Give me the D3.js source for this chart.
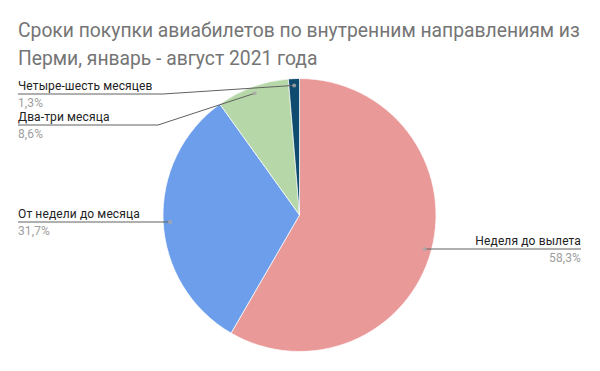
<!DOCTYPE html>
<html>
<head>
<meta charset="utf-8">
<script src="https://cdn.jsdelivr.net/npm/d3@7"></script>
<style>
  html, body { margin: 0; padding: 0; background: #fff; }
  svg { display: block; font-family: Roboto, sans-serif; }
</style>
</head>
<body>
<div id="chart"></div>
<script>
// data
const titleLines = ['Сроки покупки авиабилетов по внутренним направлениям из', 'Перми, январь - август 2021 года'];
const categories = ['Неделя до вылета', 'От недели до месяца', 'Два-три месяца', 'Четыре-шесть месяцев'];
const values = [58.3, 31.7, 8.6, 1.3];
const colors = ['#ea9999', '#6d9eeb', '#b6d7a8', '#0f4b6e'];

const width = 600,
  height = 371,
  cx = 299.5,
  cy = 215,
  radius = 136.5;

// label placement: underline y, side, elbow x
const labelLayout = [
  {y: 249, side: 'right', x0: 581},
  {y: 222, side: 'left', x0: 18, knee: null},
  {y: 125, side: 'left', x0: 18, knee: 158},
  {y: 94, side: 'left', x0: 18, knee: 163}
];

const fmt = v => d3.format('.1f')(v).replace('.', ',') + '%';

const svg = d3.select('#chart').append('svg')
  .attr('width', width)
  .attr('height', height)
  .attr('viewBox', [0, 0, width, height]);

svg.append('g')
  .selectAll('text')
  .data(titleLines)
  .join('text')
  .attr('x', 18)
  .attr('y', (d, i) => 37 + i * 28)
  .attr('fill', '#757575')
  .style('font-size', '19.3px')
  .text(d => d);

const pie = d3.pie().sort(null).value(d => d);
const arcs = pie(values);
const arc = d3.arc().innerRadius(0).outerRadius(radius);
const dotArc = d3.arc().innerRadius(radius * 0.95).outerRadius(radius * 0.95);

const g = svg.append('g').attr('transform', `translate(${cx},${cy})`);

g.selectAll('path')
  .data(arcs)
  .join('path')
  .attr('d', arc)
  .attr('fill', (d, i) => colors[i])
  .attr('stroke', '#fff')
  .attr('stroke-width', 0.7);

const labels = svg.append('g')
  .style('font-size', '12px')
  .style('letter-spacing', '0.12px');

arcs.forEach((a, i) => {
  const [dx, dy] = dotArc.centroid(a);
  const px = cx + dx, py = cy + dy;
  const L = labelLayout[i];
  let pts;
  if (L.side === 'right') {
    pts = [[px, L.y], [L.x0, L.y]];
  } else {
    const knee = L.knee == null ? px : L.knee;
    pts = [[L.x0, L.y], [knee, L.y], [px, py]];
  }
  labels.append('path')
    .attr('d', d3.line()(pts))
    .attr('fill', 'none')
    .attr('stroke', '#616161')
    .attr('stroke-width', 1);
  labels.append('circle')
    .attr('cx', px)
    .attr('cy', L.side === 'right' || L.knee == null ? L.y : py)
    .attr('r', 2)
    .attr('fill', '#aaa')
    .attr('fill-opacity', 0.8);
  const anchor = L.side === 'right' ? 'end' : 'start';
  labels.append('text')
    .attr('x', L.x0)
    .attr('y', L.y - 4)
    .attr('text-anchor', anchor)
    .attr('fill', '#222')
    .text(categories[i]);
  labels.append('text')
    .attr('x', L.x0)
    .attr('y', L.y + 13)
    .attr('text-anchor', anchor)
    .attr('fill', '#9e9e9e')
    .text(fmt(values[i]));
});
</script>
</body>
</html>
